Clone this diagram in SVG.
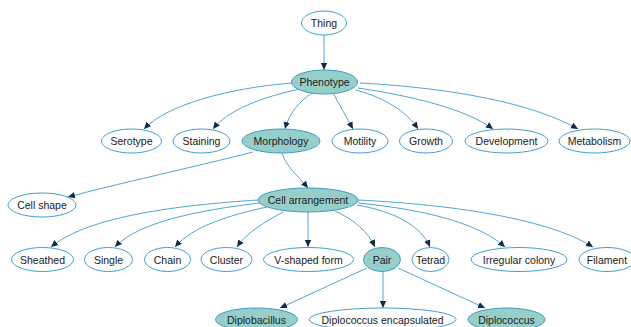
<svg xmlns="http://www.w3.org/2000/svg" width="631" height="327" viewBox="0 0 631 327">
<defs>
<style>
.n ellipse{fill:#ffffff;stroke:#3f9fd8;stroke-width:1}
.n.f ellipse{fill:#96cfca;stroke:#3d9cc8}
.n text{font-family:"Liberation Sans",Arial,sans-serif;font-size:10.5px;fill:#1a1a1a;text-anchor:middle;dominant-baseline:central}
#edges path{fill:none;stroke:#4fa6d6;stroke-width:1;marker-end:url(#ah)}
</style>
<marker id="ah" markerUnits="userSpaceOnUse" markerWidth="8" markerHeight="8" refX="7" refY="4" orient="auto">
<path d="M0,0.8 L7,4 L0,7.2 Z" fill="#0e2a45"/>
</marker>
</defs>
<rect width="631" height="327" fill="#ffffff"/>
<g id="edges">
<path d="M324,35 L324,70"/>
<path d="M292,83 C230,88 168,104 144,129"/>
<path d="M300,89 C262,97 228,110 213,129"/>
<path d="M312,93 C300,101 289,113 285,129"/>
<path d="M333,93 C340,106 347,118 353,129"/>
<path d="M356,90 C385,98 406,111 418,129"/>
<path d="M358,88 C412,96 466,109 493,129"/>
<path d="M360,83 C452,88 532,103 578,129"/>
<path d="M253,152 C190,168 112,185 68,197"/>
<path d="M282,153 C285,165 298,176 308,188"/>
<path d="M258,200 C180,205 88,216 51,247"/>
<path d="M260,203 C200,210 138,222 115,247"/>
<path d="M267,207 C230,215 193,226 175,247"/>
<path d="M283,212 C265,222 247,232 237,247"/>
<path d="M308,212 L308,247"/>
<path d="M335,211 C355,220 368,232 375,247"/>
<path d="M357,205 C396,212 421,226 430,247"/>
<path d="M358,203 C430,210 481,225 505,247"/>
<path d="M358,200 C460,205 550,220 593,247"/>
<path d="M367,268 L280,308"/>
<path d="M383,271 L383,308"/>
<path d="M398,268 L485,308"/>
</g>
<g id="thing" class="n"><ellipse cx="324" cy="23" rx="22.5" ry="12"/><text x="324" y="23">Thing</text></g>
<g id="phenotype" class="n f"><ellipse cx="324.5" cy="82" rx="33" ry="12"/><text x="324.5" y="82">Phenotype</text></g>
<g id="serotype" class="n"><ellipse cx="131.5" cy="141" rx="30" ry="12"/><text x="131.5" y="141">Serotype</text></g>
<g id="staining" class="n"><ellipse cx="201.5" cy="141" rx="28.5" ry="12"/><text x="201.5" y="141">Staining</text></g>
<g id="morphology" class="n f"><ellipse cx="281" cy="141" rx="39" ry="12"/><text x="281" y="141">Morphology</text></g>
<g id="motility" class="n"><ellipse cx="360" cy="141" rx="28" ry="12"/><text x="360" y="141">Motility</text></g>
<g id="growth" class="n"><ellipse cx="426" cy="141" rx="26.5" ry="12"/><text x="426" y="141">Growth</text></g>
<g id="development" class="n"><ellipse cx="506.5" cy="141" rx="41.5" ry="12"/><text x="506.5" y="141">Development</text></g>
<g id="metabolism" class="n"><ellipse cx="594.5" cy="141" rx="35.5" ry="12"/><text x="594.5" y="141">Metabolism</text></g>
<g id="cellshape" class="n"><ellipse cx="42" cy="205" rx="34" ry="12"/><text x="42" y="205">Cell shape</text></g>
<g id="cellarrangement" class="n f"><ellipse cx="308" cy="200" rx="50" ry="12"/><text x="308" y="200">Cell arrangement</text></g>
<g id="sheathed" class="n"><ellipse cx="42.5" cy="259.5" rx="31" ry="12"/><text x="42.5" y="259.5">Sheathed</text></g>
<g id="single" class="n"><ellipse cx="108.5" cy="259.5" rx="24" ry="12"/><text x="108.5" y="259.5">Single</text></g>
<g id="chain" class="n"><ellipse cx="167.5" cy="259.5" rx="23" ry="12"/><text x="167.5" y="259.5">Chain</text></g>
<g id="cluster" class="n"><ellipse cx="226.5" cy="259.5" rx="25.5" ry="12"/><text x="226.5" y="259.5">Cluster</text></g>
<g id="vshaped" class="n"><ellipse cx="308.5" cy="259.5" rx="45" ry="12"/><text x="308.5" y="259.5">V-shaped form</text></g>
<g id="pair" class="n f"><ellipse cx="382" cy="259.5" rx="18.5" ry="12"/><text x="382" y="259.5">Pair</text></g>
<g id="tetrad" class="n"><ellipse cx="430.5" cy="259.5" rx="18.5" ry="12"/><text x="430.5" y="259.5">Tetrad</text></g>
<g id="irregular" class="n"><ellipse cx="519" cy="259.5" rx="48" ry="12"/><text x="519" y="259.5">Irregular colony</text></g>
<g id="filament" class="n"><ellipse cx="607" cy="259.5" rx="28" ry="12"/><text x="607" y="259.5">Filament</text></g>
<g id="diplobacillus" class="n f"><ellipse cx="256.5" cy="319.5" rx="41" ry="11.5"/><text x="256.5" y="319.5">Diplobacillus</text></g>
<g id="diplococcusenc" class="n"><ellipse cx="382.5" cy="319.5" rx="73.5" ry="11.5"/><text x="382.5" y="319.5">Diplococcus encapsulated</text></g>
<g id="diplococcus" class="n f"><ellipse cx="506.5" cy="319.5" rx="38.5" ry="11.5"/><text x="506.5" y="319.5">Diplococcus</text></g>
</svg>
